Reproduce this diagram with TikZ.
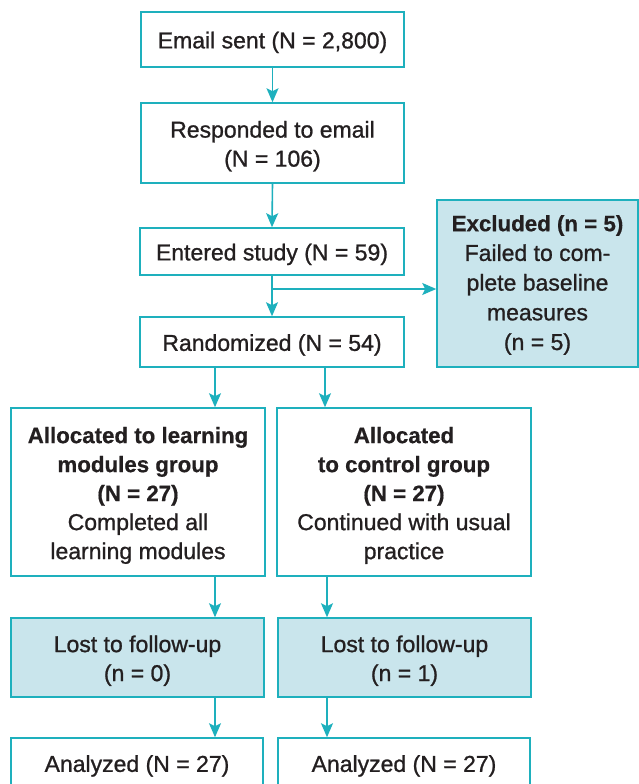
\documentclass[tikz,border=0pt]{standalone}
\usepackage{fontspec}
\setmainfont{Liberation Sans}[UprightFeatures={FakeBold=1.0},BoldFeatures={FakeBold=0.6}]
\usetikzlibrary{arrows.meta}
\definecolor{teal1}{HTML}{1EB0BD}
\definecolor{fillb}{HTML}{C9E5EC}
\definecolor{ink}{HTML}{231F20}
\newcommand{\hb}[1]{{\bfseries\fontsize{22.3}{29}\selectfont #1}}
\newcommand{\st}{\rule{0pt}{23pt}}
\tikzset{
  box/.style={draw=teal1, line width=1.5pt, inner sep=0pt, align=center, text=ink,
    font={\fontsize{23}{29}\selectfont}, execute at begin node={\rule{0pt}{22.5pt}}},
  shaded/.style={box, fill=fillb},
  arr/.style={draw=teal1, line width=1.6pt, -{Stealth[length=14pt,width=12pt,inset=3pt]}}
}
\begin{document}
\begin{tikzpicture}[x=1pt,y=-1pt]
\useasboundingbox (0,0) rectangle (639,784);
\node[box, minimum width=263pt, minimum height=55pt] (email) at (272.5,39.5) {Email sent (N = 2,800)};
\node[box, minimum width=263pt, minimum height=80pt] (resp) at (272.5,143) {\st Responded to email\\(N = 106)};
\node[box, minimum width=264pt, minimum height=47pt] (entered) at (272,251.5) {Entered study (N = 59)};
\node[box, minimum width=264pt, minimum height=50pt] (rand) at (272,342) {Randomized (N = 54)};
\node[shaded, minimum width=201pt, minimum height=167pt, font={\fontsize{23}{29.7}\selectfont}] (excl) at (537.5,283.5)
  {\rule{0pt}{19pt}\hb{Excluded (n = 5)}\\Failed to com-\\plete baseline\\measures\\(n = 5)};
\node[box, minimum width=254pt, minimum height=168pt] (allocL) at (138,492)
  {\st\hb{Allocated to learning}\\\hb{modules group}\\\hb{(N = 27)}\\Completed all\\learning modules};
\node[box, minimum width=254pt, minimum height=168pt] (allocR) at (404,492)
  {\st\hb{Allocated}\\\hb{to control group}\\\hb{(N = 27)}\\Continued with usual\\practice};
\node[shaded, minimum width=253pt, minimum height=79pt] (lostL) at (137.5,657.5) {\st Lost to follow-up\\(n = 0)};
\node[shaded, minimum width=253pt, minimum height=79pt] (lostR) at (404.5,657.5) {\st Lost to follow-up\\(n = 1)};
\node[box, minimum width=252pt, minimum height=50pt] (anaL) at (137,763) {Analyzed (N = 27)};
\node[box, minimum width=252pt, minimum height=50pt] (anaR) at (404,763) {Analyzed (N = 27)};
\draw[arr] (email.south) -- (resp.north);
\draw[arr] (resp.south) -- (entered.north);
\draw[arr] (entered.south) -- (rand.north);
\coordinate (br) at (272,289);
\draw[arr] (br) -- (br -| excl.west);
\draw[arr] ([xshift=-57pt]rand.south) -- ([xshift=-57pt]rand.south |- allocL.north);
\draw[arr] ([xshift=53pt]rand.south) -- ([xshift=53pt]rand.south |- allocR.north);
\draw[arr] ([xshift=77pt]allocL.south) -- ([xshift=77pt]allocL.south |- lostL.north);
\draw[arr] ([xshift=-77pt]allocR.south) -- ([xshift=-77pt]allocR.south |- lostR.north);
\draw[arr] ([xshift=77.5pt]lostL.south) -- ([xshift=77.5pt]lostL.south |- anaL.north);
\draw[arr] ([xshift=-77.5pt]lostR.south) -- ([xshift=-77.5pt]lostR.south |- anaR.north);
\end{tikzpicture}
\end{document}
